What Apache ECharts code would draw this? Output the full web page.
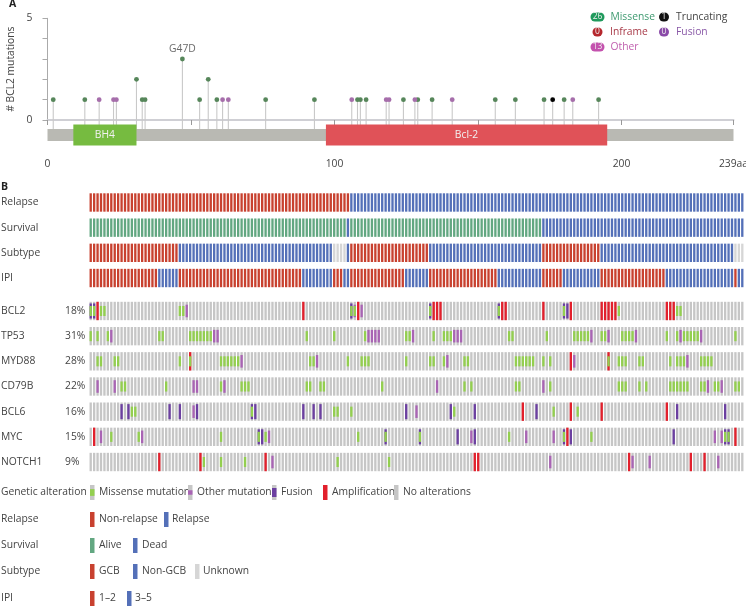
<!DOCTYPE html>
<html><head><meta charset="utf-8">
<style>html,body{margin:0;padding:0;background:#fff}#c{width:746px;height:607px}</style>
<script src="https://cdn.jsdelivr.net/npm/echarts@6/dist/echarts.min.js"></script>
</head><body><div id="c"></div>
<script>
// ---------- Panel A data ----------
const proteinLength = 239;
const xTicks = [0, 50, 100, 150, 200, 239];
const xLabels = [0, 100, 200, 239];
const missenseSites = [[2,1],[13,1],[31,2],[33,1],[34,1],[47,3],[53,1],[56,2],[59,1],[76,1],[93,1],[108,1],[109,1],[111,1],[124,1],[129,1],[134,1],[156,1],[163,1],[173,1],[180,1],[192,1]];
const otherSites = [[18,1],[23,1],[24,1],[61,1],[63,1],[106,1],[118,1],[119,1],[128,1],[141,1],[183,1]];
const truncatingSites = [[176,1]];
const domains = [[9,31,'BH4'],[97,195,'Bcl-2']];
const annotated = [[47,3,'G47D']];
// ---------- Panel B data ----------
const clinicalRows = ['Relapse','Survival','Subtype','IPI'];
const geneRows = ['BCL2','TP53','MYD88','CD79B','BCL6','MYC','NOTCH1'];
const genePct = ['18%','31%','28%','22%','16%','15%','9%'];
const patientCount = 191;
// runs: [state, first column, one past last column]
const relapseRuns = [['a',0,76],['b',76,191]];
const survivalRuns = [['g',0,75],['b',75,76],['g',76,132],['b',132,191]];
const subtypeRuns = [['a',0,26],['b',26,71],['u',71,75],['b',75,76],['a',76,99],['b',99,132],['a',132,149],['b',149,188],['u',188,191]];
const ipiRuns = [['a',0,20],['b',20,26],['a',26,62],['b',62,71],['a',71,74],['b',74,76],['a',76,92],['b',92,99],['a',99,119],['b',119,132],['a',132,138],['b',138,149],['a',149,168],['b',168,188],['a',188,189],['b',189,191]];
const BCL2_missense = [0,1,3,4,26,27,76,77,99,119,138,154,171,172];
const BCL2_other = [28,77,79];
const BCL2_fusion = [0,1,76,99,119,138,139];
const BCL2_amp = [2,62,78,100,101,102,120,121,132,140,149,150,151,152,153,168,169,170];
const TP53_missense = [0,2,5,20,21,29,30,31,32,33,34,35,63,71,80,92,93,100,103,104,105,122,123,133,141,142,143,144,145,149,150,155,156,157,158,168,171,173,174,175,176,177,188];
const TP53_other = [6,36,37,81,82,83,84,94,106,107,108,146,151,159,172,178];
const MYD88_missense = [2,3,7,8,26,29,38,39,40,41,42,43,64,65,75,79,80,81,92,99,100,103,109,110,124,125,126,127,128,129,132,134,151,154,155,156,160,161,169,171,172,173,178,179,180,181];
const MYD88_other = [44,66,104,141,174];
const MYD88_amp = [29,140,151];
const CD79B_missense = [9,10,22,38,44,45,46,63,64,67,68,85,109,111,124,125,134,154,155,156,160,162,169,170,171,172,173,174,178,179,182,183,188,189];
const CD79B_other = [2,7,30,31,39,101,132,180,184];
const BCL6_missense = [12,13,47,71,72,76,106,135,142];
const BCL6_other = [30,95];
const BCL6_fusion = [9,11,23,26,31,47,48,62,65,67,92,105,112,130,171,185];
const BCL6_amp = [126,140,149,168];
const MYC_missense = [6,14,38,49,51,78,86,96,122,138,146,185,186];
const MYC_other = [3,15,52,111,127,135,182,184];
const MYC_fusion = [49,50,86,96,107,112,138,140,170,185,186];
const MYC_amp = [1,139,188];
const NOTCH1_missense = [33,38,45,72,87];
const NOTCH1_other = [53,134,158,163,183];
const NOTCH1_amp = [20,32,51,112,113,157,175,179];

const FONT = '"Open Sans", sans-serif';
const TXT = '#444';
const FS = 10.3;
const C = {a:'#c8412f', b:'#5470b8', g:'#62a781', u:'#d6d6d6', gray:'#c6c6c6',
  missense:'#93cf4f', other:'#a964b4', fusion:'#6b3fa0', amp:'#e2202c'};

function expand(runs, row){
  const out=[]; runs.forEach(r=>{for(let i=r[1];i<r[2];i++) out.push([i,row,r[0]]);}); return out;
}
function stripes(frac, colorFn, xIdx, yIdx, data, z){
  return {type:'custom', coordinateSystem:'cartesian2d', xAxisIndex:xIdx, yAxisIndex:yIdx, data, z, silent:true, animation:false,
    renderItem(p, api){
      const c = api.coord([api.value(0), api.value(1)]);
      const sz = api.size([1,1]);
      const w = sz[0]*0.68, h = sz[1]*frac;
      return {type:'rect', shape:{x:c[0]-w/2, y:c[1]-h/2, width:w, height:h}, style:{fill: colorFn(data[p.dataIndex])}};
    }};
}
const layer=(arrs,rowsIdx)=>{const o=[];arrs.forEach((a,i)=>{(a||[]).forEach(x=>o.push([x,rowsIdx[i]]));});return o;};
const patients = Array.from({length:patientCount},(_,i)=>i);
const clinData = [].concat(expand(relapseRuns,0),expand(survivalRuns,1),expand(subtypeRuns,2),expand(ipiRuns,3));
const baseData = []; geneRows.forEach((g,r)=>patients.forEach(i=>baseData.push([i,r])));
const idx=[0,1,2,3,4,5,6];
const ampData = layer([BCL2_amp,null,MYD88_amp,null,BCL6_amp,MYC_amp,NOTCH1_amp],idx);
const fusionData = layer([BCL2_fusion,null,null,null,BCL6_fusion,MYC_fusion,null],idx);
const otherData = layer([BCL2_other,TP53_other,MYD88_other,CD79B_other,BCL6_other,MYC_other,NOTCH1_other],idx);
const missData = layer([BCL2_missense,TP53_missense,MYD88_missense,CD79B_missense,BCL6_missense,MYC_missense,NOTCH1_missense],idx);

const TRACK_TOP=-0.44, TRACK_BOTTOM=-1.03, DOMAIN_TOP=-0.22, DOMAIN_BOTTOM=-1.25;
function lolli(sites,color){
  return {type:'custom', xAxisIndex:0,yAxisIndex:0,data:sites,z:3,silent:true,animation:false,
    renderItem(p,api){
      const a=api.coord([api.value(0),api.value(1)]), b=api.coord([api.value(0),TRACK_TOP]);
      return {type:'group',children:[
        {type:'line',shape:{x1:a[0],y1:a[1],x2:b[0],y2:b[1]},style:{stroke:'#c9c9c9',lineWidth:1.1}},
        {type:'circle',shape:{cx:a[0],cy:a[1],r:2.4},style:{fill:color}}]};
    }};
}
const trackSeries={type:'custom',xAxisIndex:0,yAxisIndex:0,data:[[0,proteinLength]],z:2,silent:true,animation:false,
  renderItem(p,api){
    const a=api.coord([api.value(0),TRACK_TOP]), b=api.coord([api.value(1),TRACK_BOTTOM]);
    return {type:'rect',shape:{x:a[0],y:a[1],width:b[0]-a[0],height:b[1]-a[1]},style:{fill:'#b9b9b3'}};
  }};
const domainSeries={type:'custom',xAxisIndex:0,yAxisIndex:0,data:domains.map(d=>[d[0],d[1]]),z:4,silent:true,animation:false,
  renderItem(p,api){
    const d=domains[p.dataIndex];
    const a=api.coord([d[0],DOMAIN_TOP]), b=api.coord([d[1],DOMAIN_BOTTOM]);
    return {type:'rect',shape:{x:a[0],y:a[1],width:b[0]-a[0],height:b[1]-a[1]},
      style:{fill:d[2]==='BH4'?'#76bb40':'#e05258'},
      textContent:{style:{text:d[2],fill:'#f2f2f2',font:FS+'px '+FONT}},textConfig:{position:'inside'}};
  }};
const annoSeries={type:'scatter',xAxisIndex:0,yAxisIndex:0,data:annotated.map(a=>[a[0],a[1]]),symbolSize:0,z:5,silent:true,animation:false,
  label:{show:true,position:'top',distance:5,formatter:()=>annotated[0][2],fontFamily:FONT,fontSize:FS,color:TXT}};

const g=[];
function text(x,y,s,color,size,weight,align){g.push({type:'text',x,y,silent:true,style:{text:s,fill:color||TXT,font:(weight||'normal')+' '+(size||FS)+'px '+FONT,verticalAlign:'middle',align:align||'left'}});}
function box(x,y,w,h,fill,r){g.push({type:'rect',x,y,silent:true,shape:{x:0,y:0,width:w,height:h,r:r||0},style:{fill}});}
text(9,4,'A','#222',10.5,'bold'); text(1,187,'B','#222',10.5,'bold');
function pill(cx,cy,w,color,num,label,lc,lx){
  box(cx-w/2,cy-4.5,w,9,color,4.5);
  text(cx,cy,num,'#eee',8.5,'normal','center');
  text(lx,cy,label,lc);
}
const legendRows=[[597.5,17,14,'#1f9a5c','26','Missense','#3f9a70',610.5],[664,17,10,'#111','1','Truncating','#444',676],
 [597.5,32,10,'#b5272d','0','Inframe','#a83a48',610],[664,32,10,'#8a4aa8','0','Fusion','#8a5aa8',676],
 [597.5,47,14,'#c452ae','13','Other','#c060ae',610.5]];
legendRows.forEach(r=>pill(...r));
const sw=(x,row,fill,inner,frac)=>{const top=[485,512,538,564,591][row];box(x,top,4.5,15,fill);if(inner){const h=15*frac;box(x,top+(15-h)/2,4.5,h,inner);}};
const legY=[492,519,545,571,598];
['Genetic alteration','Relapse','Survival','Subtype','IPI'].forEach((s,i)=>text(1,legY[i],s));
sw(90,0,C.gray,C.missense,.45);text(99,legY[0],'Missense mutation');
sw(188,0,C.gray,C.other,.3);text(197,legY[0],'Other mutation');
sw(272,0,C.gray,C.fusion,.6);text(281,legY[0],'Fusion');
sw(323,0,C.amp);text(332,legY[0],'Amplification');
sw(394,0,C.gray);text(403,legY[0],'No alterations');
sw(90,1,C.a);text(99,legY[1],'Non-relapse');sw(164,1,C.b);text(172,legY[1],'Relapse');
sw(90,2,C.g);text(99,legY[2],'Alive');sw(133,2,C.b);text(142,legY[2],'Dead');
sw(90,3,C.a);text(99,legY[3],'GCB');sw(133,3,C.b);text(142,legY[3],'Non-GCB');sw(195,3,C.u);text(203,legY[3],'Unknown');
sw(90,4,C.a);text(99,legY[4],'1–2');sw(127,4,C.b);text(135,legY[4],'3–5');

const hiddenX=(gi)=>({type:'category',gridIndex:gi,data:patients,show:false,boundaryGap:true});
const rowAxis=(gi,data,fmt)=>({type:'category',gridIndex:gi,data,inverse:true,axisLine:{show:false},axisTick:{show:false},splitLine:{show:false},
  axisLabel:{align:'left',margin:88,color:TXT,fontFamily:FONT,fontSize:FS,interval:0,formatter:fmt,
    rich:{n:{width:64,align:'left',color:TXT,fontFamily:FONT,fontSize:FS},p:{color:TXT,fontFamily:FONT,fontSize:FS}}}});

const chart=echarts.init(document.getElementById('c'),null,{renderer:'canvas'});
chart.setOption({
  animation:false,backgroundColor:'#fff',
  textStyle:{fontFamily:FONT},
  grid:[{left:47.5,top:18.3,width:686,height:101.7,outerBoundsMode:'none'},
        {left:89,top:189.9,width:655,height:100.7,outerBoundsMode:'none'},
        {left:89,top:298.4,width:655,height:176.2,outerBoundsMode:'none'}],
  xAxis:[{type:'value',gridIndex:0,min:0,max:proteinLength,offset:30,splitLine:{show:false},
      axisLine:{show:true,lineStyle:{color:'#cfcfd4',width:2}},
      axisTick:{show:true,length:5,lineStyle:{color:'#999'},customValues:xTicks},
      axisLabel:{color:TXT,fontFamily:FONT,fontSize:FS,margin:9,customValues:xLabels,showMinLabel:true,showMaxLabel:true,
        formatter:v=>v===proteinLength?v+'aa':''+v}},
    hiddenX(1),hiddenX(2)],
  yAxis:[{type:'value',gridIndex:0,min:0,max:5,interval:1,offset:9,splitLine:{show:false},
      name:'# BCL2 mutations',nameLocation:'middle',nameGap:21,nameTextStyle:{color:TXT,fontFamily:FONT,fontSize:FS},
      axisLine:{show:true,lineStyle:{color:'#aaa'}},axisTick:{show:true,length:5,lineStyle:{color:'#aaa'}},
      axisLabel:{color:TXT,fontFamily:FONT,fontSize:FS,margin:6,formatter:v=>(v===0||v===5)?v:''}},
    rowAxis(1,clinicalRows,v=>v),
    rowAxis(2,geneRows,v=>'{n|'+v+'}{p|'+genePct[geneRows.indexOf(v)]+'}')],
  series:[trackSeries,lolli(missenseSites,'#56865a'),lolli(otherSites,'#a66eab'),lolli(truncatingSites,'#000'),domainSeries,annoSeries,
    stripes(.73,d=>C[d[2]],1,1,clinData,2),
    stripes(.73,()=>C.gray,2,2,baseData,2),
    stripes(.73,()=>C.amp,2,2,ampData,3),
    stripes(.6,()=>C.fusion,2,2,fusionData,4),
    stripes(.5,()=>C.other,2,2,otherData,5),
    stripes(.4,()=>C.missense,2,2,missData,6)],
  graphic:g
});
</script></body></html>
